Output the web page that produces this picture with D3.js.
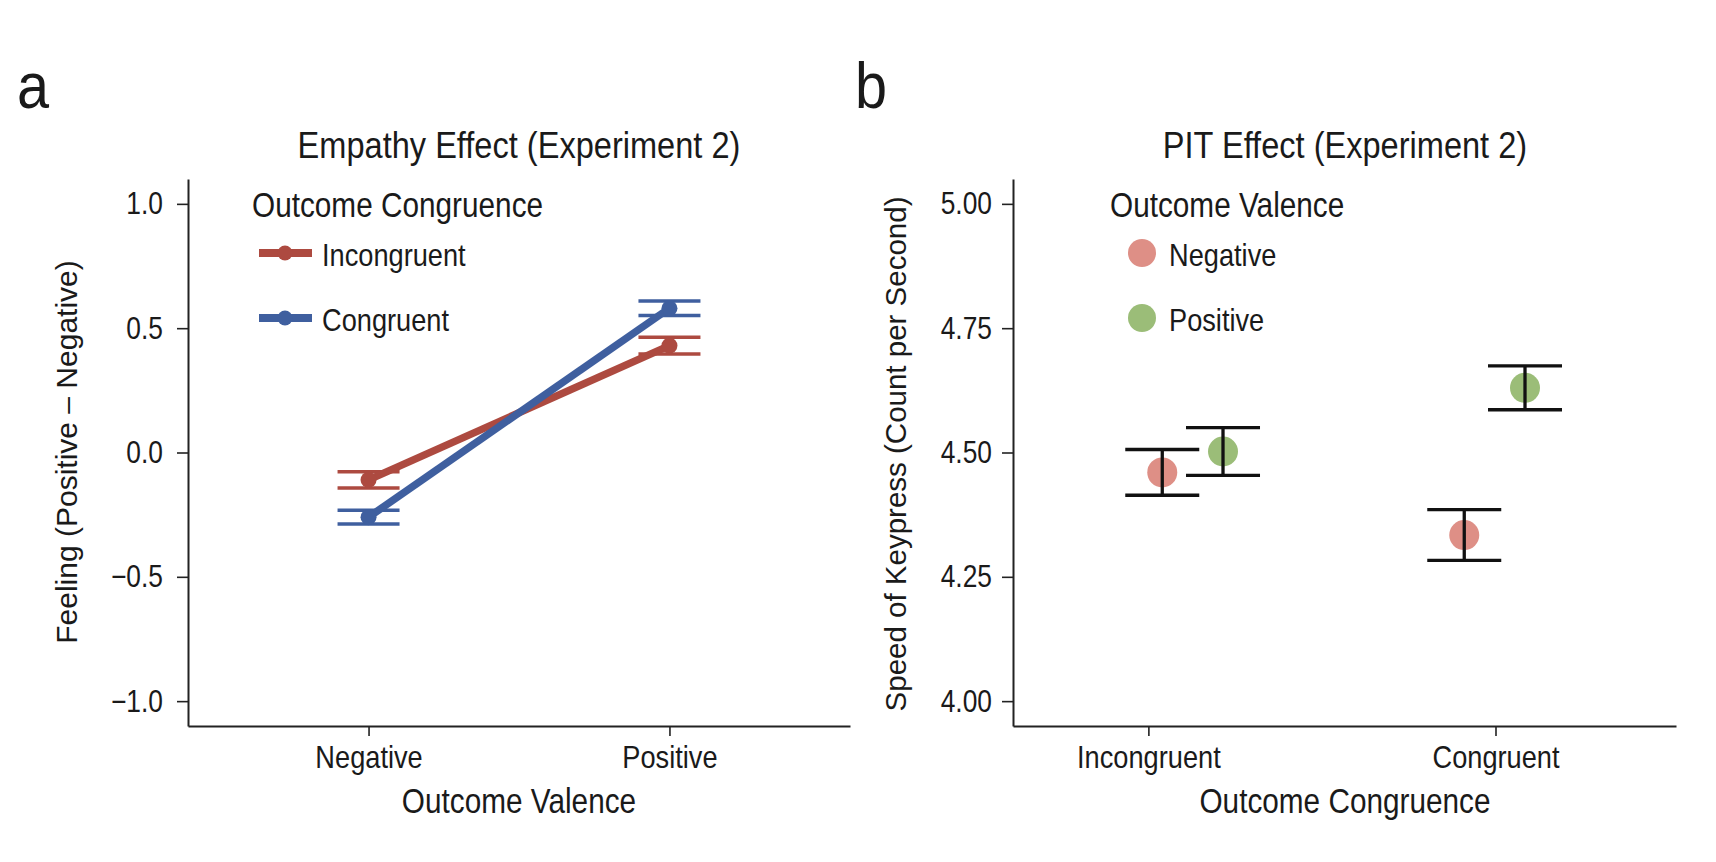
<!DOCTYPE html>
<html>
<head>
<meta charset="utf-8">
<script src="https://cdn.jsdelivr.net/npm/d3@7"></script>
<style>
  body { margin: 0; background: #fff; }
  .cond { font-family: "Liberation Sans", Arial, sans-serif; fill: #1a1a1a; }
  .reg { font-family: "Liberation Sans", Arial, sans-serif; fill: #1a1a1a; }
  .axis path, .axis line { stroke: #222; }
</style>
</head>
<body>
<div class="svg-container"></div>
<script>
// panel a: feeling ratings
var valenceCats = ["Negative", "Positive"];
var feelIncongruent = [-0.11, 0.43];
var feelIncongruentSE = [0.033, 0.034];
var feelCongruent = [-0.26, 0.58];
var feelCongruentSE = [0.028, 0.029];
var feelTicks = [-1.0, -0.5, 0.0, 0.5, 1.0];

// panel b: keypress speed
var congruenceCats = ["Incongruent", "Congruent"];
var speedNegative = [4.46, 4.334];
var speedNegativeSE = [0.046, 0.051];
var speedPositive = [4.502, 4.63];
var speedPositiveSE = [0.048, 0.044];
var speedTicks = [4.00, 4.25, 4.50, 4.75, 5.00];

var W = 1716, H = 862;
var svg = d3.select(".svg-container").append("svg")
            .attr("width", W)
            .attr("height", H);

var plotTop = 179, plotBottom = 726;

// the original uses a condensed face; squeeze the glyphs of the regular one
function condense(sel, k) {
  sel.each(function() {
    var len = this.getComputedTextLength();
    d3.select(this).attr("textLength", len * (k || 0.85)).attr("lengthAdjust", "spacingAndGlyphs");
  });
}

function styleAxis(g) {
  g.attr("class", "axis");
  g.select(".domain").attr("stroke-width", 2);
  g.selectAll(".tick line").attr("stroke-width", 1.6);
}

// ---------- panel a ----------
var xa = d3.scalePoint().domain(valenceCats).range([188, 850]).padding(0.6);
var ya = d3.scaleLinear().domain([-1.1, 1.1]).range([plotBottom, plotTop]);

svg.append("g")
   .attr("transform", "translate(0," + plotBottom + ")")
   .call(d3.axisBottom(xa).tickSize(10).tickSizeOuter(0).tickPadding(10))
   .call(styleAxis)
   .selectAll("text").attr("class", "cond").style("font-size", "32px").attr("dy", "0.69em")
   .call(condense);

svg.append("g")
   .attr("transform", "translate(188,0)")
   .call(d3.axisLeft(ya).tickValues(feelTicks).tickFormat(d3.format(".1f")).tickSize(11).tickSizeOuter(0).tickPadding(14))
   .call(styleAxis)
   .selectAll("text").attr("class", "cond").style("font-size", "31px")
   .call(condense);

var seriesA = [
  { name: "Incongruent", vals: feelIncongruent, se: feelIncongruentSE, color: "#ad4a40" },
  { name: "Congruent", vals: feelCongruent, se: feelCongruentSE, color: "#3f5f9f" }
];

var lineA = d3.line()
              .x(function(d, i) { return xa(valenceCats[i]); })
              .y(function(d) { return ya(d); });

seriesA.forEach(function(s) {
  var g = svg.append("g");
  s.vals.forEach(function(v, i) {
    var cx = xa(valenceCats[i]);
    g.append("line").attr("x1", cx).attr("x2", cx)
     .attr("y1", ya(v - s.se[i])).attr("y2", ya(v + s.se[i]))
     .attr("stroke", s.color).attr("stroke-width", 3.5);
    [v - s.se[i], v + s.se[i]].forEach(function(e) {
      g.append("line").attr("x1", cx - 31).attr("x2", cx + 31)
       .attr("y1", ya(e)).attr("y2", ya(e))
       .attr("stroke", s.color).attr("stroke-width", 3.5);
    });
  });
  g.append("path").attr("d", lineA(s.vals))
   .attr("fill", "none").attr("stroke", s.color).attr("stroke-width", 7.5);
  g.selectAll("circle").data(s.vals).enter().append("circle")
   .attr("cx", function(d, i) { return xa(valenceCats[i]); })
   .attr("cy", function(d) { return ya(d); })
   .attr("r", 8).attr("fill", s.color);
});

// legend a
svg.append("text").attr("class", "cond").style("font-size", "35px")
   .attr("x", 252).attr("y", 217).text("Outcome Congruence").call(condense);
seriesA.forEach(function(s, i) {
  var ly = 253 + i * 65;
  svg.append("line").attr("x1", 259).attr("x2", 312).attr("y1", ly).attr("y2", ly)
     .attr("stroke", s.color).attr("stroke-width", 8);
  svg.append("circle").attr("cx", 285).attr("cy", ly).attr("r", 7.5).attr("fill", s.color);
  svg.append("text").attr("class", "cond").style("font-size", "32px")
     .attr("x", 322).attr("y", ly + 13).text(s.name).call(condense);
});

svg.append("text").attr("class", "cond").style("font-size", "37px")
   .attr("x", 519).attr("y", 158).attr("text-anchor", "middle")
   .text("Empathy Effect (Experiment 2)").call(condense, 0.88);
svg.append("text").attr("class", "cond").style("font-size", "35px")
   .attr("x", 519).attr("y", 813).attr("text-anchor", "middle")
   .text("Outcome Valence").call(condense);
svg.append("text").attr("class", "reg").style("font-size", "30px")
   .attr("transform", "translate(77,452) rotate(-90)").attr("text-anchor", "middle")
   .text("Feeling (Positive \u2013 Negative)");
svg.append("text").attr("class", "reg").style("font-size", "64px")
   .attr("x", 17).attr("y", 108).text("a").call(condense, 0.9);

// ---------- panel b ----------
var xb = d3.scaleLinear().domain([-0.39, 1.52]).range([1013, 1676]);
var yb = d3.scaleLinear().domain([3.95, 5.05]).range([plotBottom, plotTop]);

svg.append("g")
   .attr("transform", "translate(0," + plotBottom + ")")
   .call(d3.axisBottom(xb).tickValues([0, 1]).tickFormat(function(i) { return congruenceCats[i]; })
           .tickSize(10).tickSizeOuter(0).tickPadding(10))
   .call(styleAxis)
   .selectAll("text").attr("class", "cond").style("font-size", "32px").attr("dy", "0.69em")
   .call(condense);

svg.append("g")
   .attr("transform", "translate(1013,0)")
   .call(d3.axisLeft(yb).tickValues(speedTicks).tickFormat(d3.format(".2f")).tickSize(11).tickSizeOuter(0).tickPadding(10))
   .call(styleAxis)
   .selectAll("text").attr("class", "cond").style("font-size", "31px")
   .call(condense);

// dodge of each point within its category (axis units)
var dodgeNeg = [0.04, -0.09];
var dodgePos = [0.215, 0.085];

var seriesB = [
  { name: "Negative", vals: speedNegative, se: speedNegativeSE, dodge: dodgeNeg, color: "#de8f86" },
  { name: "Positive", vals: speedPositive, se: speedPositiveSE, dodge: dodgePos, color: "#9bbd78" }
];

seriesB.forEach(function(s) {
  var g = svg.append("g");
  s.vals.forEach(function(v, i) {
    var cx = xb(i + s.dodge[i]);
    g.append("circle").attr("cx", cx).attr("cy", yb(v)).attr("r", 15).attr("fill", s.color);
    g.append("line").attr("x1", cx).attr("x2", cx)
     .attr("y1", yb(v - s.se[i])).attr("y2", yb(v + s.se[i]))
     .attr("stroke", "#111").attr("stroke-width", 3.3);
    [v - s.se[i], v + s.se[i]].forEach(function(e) {
      g.append("line").attr("x1", cx - 37).attr("x2", cx + 37)
       .attr("y1", yb(e)).attr("y2", yb(e))
       .attr("stroke", "#111").attr("stroke-width", 3.3);
    });
  });
});

// legend b
svg.append("text").attr("class", "cond").style("font-size", "35px")
   .attr("x", 1110).attr("y", 217).text("Outcome Valence").call(condense);
seriesB.forEach(function(s, i) {
  var ly = 253 + i * 65;
  svg.append("circle").attr("cx", 1142).attr("cy", ly).attr("r", 14).attr("fill", s.color);
  svg.append("text").attr("class", "cond").style("font-size", "32px")
     .attr("x", 1169).attr("y", ly + 13).text(s.name).call(condense);
});

svg.append("text").attr("class", "cond").style("font-size", "37px")
   .attr("x", 1345).attr("y", 158).attr("text-anchor", "middle")
   .text("PIT Effect (Experiment 2)").call(condense, 0.88);
svg.append("text").attr("class", "cond").style("font-size", "35px")
   .attr("x", 1345).attr("y", 813).attr("text-anchor", "middle")
   .text("Outcome Congruence").call(condense);
svg.append("text").attr("class", "reg").style("font-size", "29.5px")
   .attr("transform", "translate(906,454) rotate(-90)").attr("text-anchor", "middle")
   .text("Speed of Keypress (Count per Second)");
svg.append("text").attr("class", "reg").style("font-size", "64px")
   .attr("x", 855).attr("y", 108).text("b").call(condense, 0.9);
</script>
</body>
</html>
